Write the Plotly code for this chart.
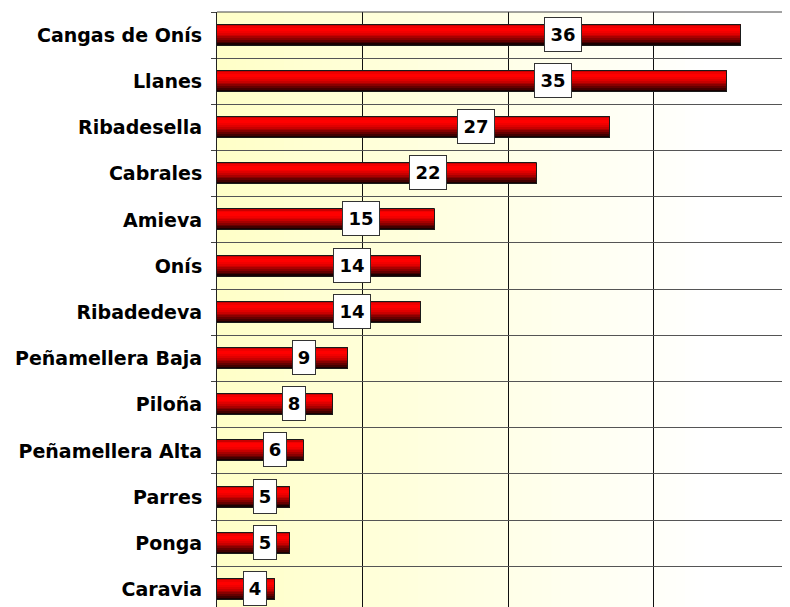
import plotly.graph_objects as go

categories = ["Cangas de Onís", "Llanes", "Ribadesella", "Cabrales", "Amieva", "Onís",
              "Ribadedeva", "Peñamellera Baja", "Piloña", "Peñamellera Alta", "Parres",
              "Ponga", "Caravia"]
values = [36, 35, 27, 22, 15, 14, 14, 9, 8, 6, 5, 5, 4]

stripe_colors = ["#c80000", "#f00000", "#ff0000", "#ff0000", "#f20000", "#e00000",
                 "#c80000", "#a80000", "#880000", "#640000", "#420000", "#1a0000"]

BAR_W = 0.455
fig = go.Figure()
n = len(stripe_colors)
sw = BAR_W / n
for i, c in enumerate(stripe_colors):
    fig.add_trace(go.Bar(
        y=categories, x=values, orientation="h",
        width=sw * 1.02, offset=-BAR_W / 2 + i * sw,
        marker=dict(color=c, line=dict(width=0)),
        hoverinfo="skip", showlegend=False))
# outline
fig.add_trace(go.Bar(
    y=categories, x=values, orientation="h",
    width=BAR_W, offset=-BAR_W / 2,
    marker=dict(color="rgba(0,0,0,0)", line=dict(width=1, color="#1a1a1a")),
    hoverinfo="skip", showlegend=False))

# background gradient (plot area)
steps = 60
shapes = []
for k in range(steps):
    t = k / (steps - 1)
    b = int(round(200 + (255 - 200) * min(1.0, t * 1.15)))
    shapes.append(dict(type="rect", xref="x domain", yref="y domain",
                       x0=k / steps, x1=(k + 1) / steps + 0.002, y0=0, y1=1,
                       fillcolor=f"rgb(255,255,{b})", line=dict(width=0), layer="below"))
# top border
shapes.append(dict(type="line", xref="x domain", yref="y domain", x0=0, x1=1, y0=1, y1=1,
                   line=dict(color="#444444", width=1)))

annotations = []
for cat, v in zip(categories, values):
    txt = str(v)
    annotations.append(dict(
        x=v * 0.66, y=cat, xref="x", yref="y", text=f"<b>{txt}</b>", showarrow=False,
        font=dict(family="DejaVu Sans", size=18, color="#000000"),
        bgcolor="#ffffff", bordercolor="#333333", borderwidth=1, borderpad=0,
        width=36 if len(txt) > 1 else 22, height=33, align="center", valign="middle",
        yshift=1))

fig.update_layout(
    width=782, height=599,
    margin=dict(l=209, r=0, t=4, b=0, autoexpand=False),
    paper_bgcolor="#ffffff", plot_bgcolor="#ffffff",
    barmode="overlay", bargap=0,
    shapes=shapes, annotations=annotations,
    font=dict(family="DejaVu Sans", color="#000000"),
)
fig.update_xaxes(range=[0, 39.35], dtick=10, showticklabels=False, showgrid=True,
                 gridcolor="#111111", gridwidth=1, zeroline=False, ticks="",
                 showline=False, layer="below traces", automargin=False)
fig.update_yaxes(categoryorder="array", categoryarray=categories,
                 range=[12.38, -0.5], tickson="boundaries", ticks="outside", ticklen=5,
                 tickcolor="#444444", showgrid=True, gridcolor="#555555", gridwidth=1,
                 showline=True, linecolor="#222222", linewidth=1,
                 tickfont=dict(family="DejaVu Sans", size=19, color="#000000", weight="bold"),
                 ticklabelstandoff=10, layer="below traces", automargin=False)

fig.write_html("out.html")
